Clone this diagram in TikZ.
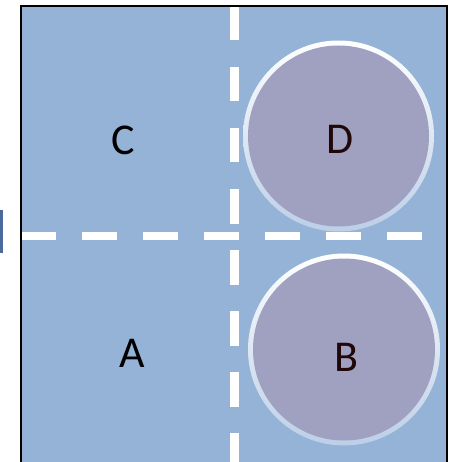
\documentclass[tikz,border=0pt]{standalone}
\usepackage{fontspec}
\setmainfont{Carlito}
\definecolor{bgblue}{HTML}{95B3D7}
\definecolor{circfill}{HTML}{A0A0C0}
\definecolor{rimlow}{HTML}{BCCFE7}
\definecolor{markblue}{HTML}{4A6A9C}
\definecolor{labdark}{HTML}{200808}
\tikzset{
  dashline/.style={white, line width=8.5pt, dash pattern=on 34.5pt off 26.5pt},
  letter/.style={font=\fontsize{44}{44}\selectfont, inner sep=0pt},
}
\begin{document}
\begin{tikzpicture}[x=1pt,y=-1pt]
\useasboundingbox (0,0) rectangle (452,462);
\clip (0,0) rectangle (452,462);
% left mark
\fill[markblue] (0,210) rectangle (2.5,253);
% square
\fill[bgblue] (21,6) rectangle (447,480);
% dashed dividers
\coordinate (vtop) at (234.3,6);
\coordinate (vbot) at (234.3,480);
\coordinate (hleft) at (21,236);
\coordinate (hright) at (447,236);
\draw[dashline] (vtop) -- (vbot);
\draw[dashline] (hleft) -- (hright);
% border
\draw[black, line width=2pt] (21,480) -- (21,6) -- (447,6) -- (447,480);
% circles
\shade[top color=white, bottom color=rimlow] (338.5,136) circle (95.5);
\fill[circfill] (338.5,136) circle (90.5);
\shade[top color=white, bottom color=rimlow] (344,349.5) circle (96);
\fill[circfill] (344,349.5) circle (91);
% labels
\node[letter] (C) at (123,140) {C};
\node[letter] (A) at (132.5,353.5) {A};
\node[letter, text=labdark] (D) at (340,139) {D};
\node[letter, text=labdark] (B) at (346,357) {B};
\end{tikzpicture}
\end{document}
